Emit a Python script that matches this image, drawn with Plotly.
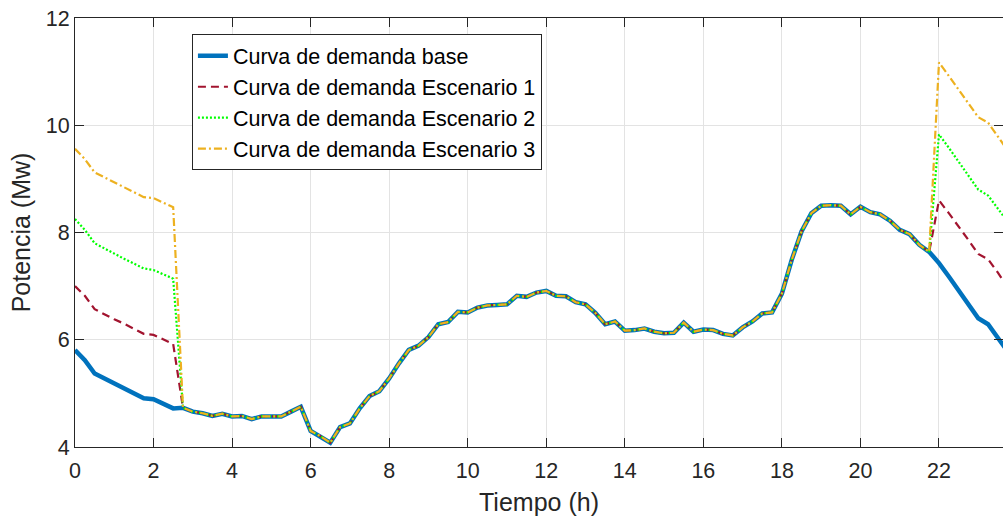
import plotly.graph_objects as go

# Time axis: 15-minute steps (hours)
hours = [i * 0.25 for i in range(96)]

# Base demand curve (MW)
base = [
    5.81, 5.62, 5.37, 5.28, 5.19, 5.10, 5.01, 4.91, 4.89, 4.80, 4.72, 4.73,
    4.66, 4.63, 4.58, 4.62, 4.57, 4.58, 4.52, 4.57, 4.57, 4.57, 4.66, 4.75,
    4.30, 4.20, 4.08, 4.37, 4.44, 4.72, 4.95, 5.04, 5.28, 5.56, 5.81, 5.89,
    6.05, 6.29, 6.33, 6.52, 6.51, 6.60, 6.64, 6.65, 6.66, 6.82, 6.80, 6.88,
    6.91, 6.82, 6.81, 6.70, 6.66, 6.50, 6.29, 6.34, 6.17, 6.18, 6.21, 6.15,
    6.12, 6.13, 6.32, 6.15, 6.19, 6.18, 6.11, 6.08, 6.23, 6.34, 6.49, 6.51,
    6.86, 7.49, 8.02, 8.36, 8.50, 8.51, 8.50, 8.34, 8.48, 8.38, 8.34, 8.22,
    8.05, 7.97, 7.77, 7.64, 7.43, 7.18, 6.92, 6.66, 6.40, 6.29, 6.05, 5.78,
]

# Scenario values where they differ from the base (00:00-02:30 and 22:00-23:45)
s1_am = [7.00, 6.82, 6.57, 6.47, 6.38, 6.30, 6.21, 6.11, 6.09, 6.00, 5.92]
s2_am = [8.25, 8.05, 7.80, 7.70, 7.60, 7.51, 7.42, 7.33, 7.30, 7.22, 7.14]
s3_am = [9.56, 9.37, 9.12, 9.03, 8.94, 8.85, 8.76, 8.66, 8.64, 8.55, 8.47]
s1_pm = [8.60, 8.36, 8.12, 7.86, 7.60, 7.50, 7.25, 6.98]
s2_pm = [9.83, 9.58, 9.32, 9.06, 8.80, 8.69, 8.45, 8.20]
s3_pm = [11.17, 10.92, 10.67, 10.41, 10.15, 10.05, 9.80, 9.53]

# Between 02:45 and 21:45 the scenarios coincide with the base curve
shared = base[11:88]
esc1 = s1_am + shared + s1_pm
esc2 = s2_am + shared + s2_pm
esc3 = s3_am + shared + s3_pm

names = [
    "Curva de demanda base",
    "Curva de demanda Escenario 1",
    "Curva de demanda Escenario 2",
    "Curva de demanda Escenario 3",
]

x_ticks = list(range(0, 23, 2))
y_ticks = [4, 6, 8, 10, 12]

FONT = "Arial, 'Liberation Sans', Helvetica, sans-serif"
AX = "#262626"

fig = go.Figure()
fig.add_trace(go.Scatter(x=hours, y=base, mode="lines", name=names[0],
                         line=dict(color="#0072BD", width=4.5)))
fig.add_trace(go.Scatter(x=hours, y=esc1, mode="lines", name=names[1],
                         line=dict(color="#A2142F", width=2.2, dash="8px,5px")))
fig.add_trace(go.Scatter(x=hours, y=esc2, mode="lines", name=names[2],
                         line=dict(color="#00FF00", width=2.2, dash="2px,2px")))
fig.add_trace(go.Scatter(x=hours, y=esc3, mode="lines", name=names[3],
                         line=dict(color="#EDB120", width=2.2, dash="8px,3px,2px,3px")))

fig.update_layout(
    width=1003, height=520,
    margin=dict(l=75, r=0, t=18, b=73),
    paper_bgcolor="white", plot_bgcolor="white",
    font=dict(family=FONT, size=21.5, color=AX),
    showlegend=True,
    legend=dict(
        x=0.126, y=0.962, xanchor="left", yanchor="top",
        bgcolor="white", bordercolor=AX, borderwidth=1,
        font=dict(family=FONT, size=21.5, color="black"),
        tracegroupgap=0, itemwidth=30,
    ),
)

fig.update_xaxes(
    range=[0, 23.63], tickvals=x_ticks, ticktext=[str(t) for t in x_ticks],
    showgrid=True, gridcolor="#E3E3E3", gridwidth=1,
    showline=True, linecolor=AX, linewidth=1, mirror="ticks",
    ticks="inside", ticklen=9, tickcolor=AX, tickwidth=1,
    tickfont=dict(family=FONT, size=21.5, color=AX),
    ticklabelstandoff=4,
    zeroline=False,
    title=dict(text="Tiempo (h)", font=dict(family=FONT, size=25, color=AX), standoff=11),
)
fig.update_yaxes(
    range=[4, 12], tickvals=y_ticks, ticktext=[str(t) for t in y_ticks],
    showgrid=True, gridcolor="#E3E3E3", gridwidth=1,
    showline=True, linecolor=AX, linewidth=1, mirror="ticks",
    ticks="inside", ticklen=9, tickcolor=AX, tickwidth=1,
    tickfont=dict(family=FONT, size=21.5, color=AX),
    zeroline=False,
    title=dict(text="Potencia (Mw)", font=dict(family=FONT, size=25, color=AX), standoff=8),
)

fig.write_html("out.html")
